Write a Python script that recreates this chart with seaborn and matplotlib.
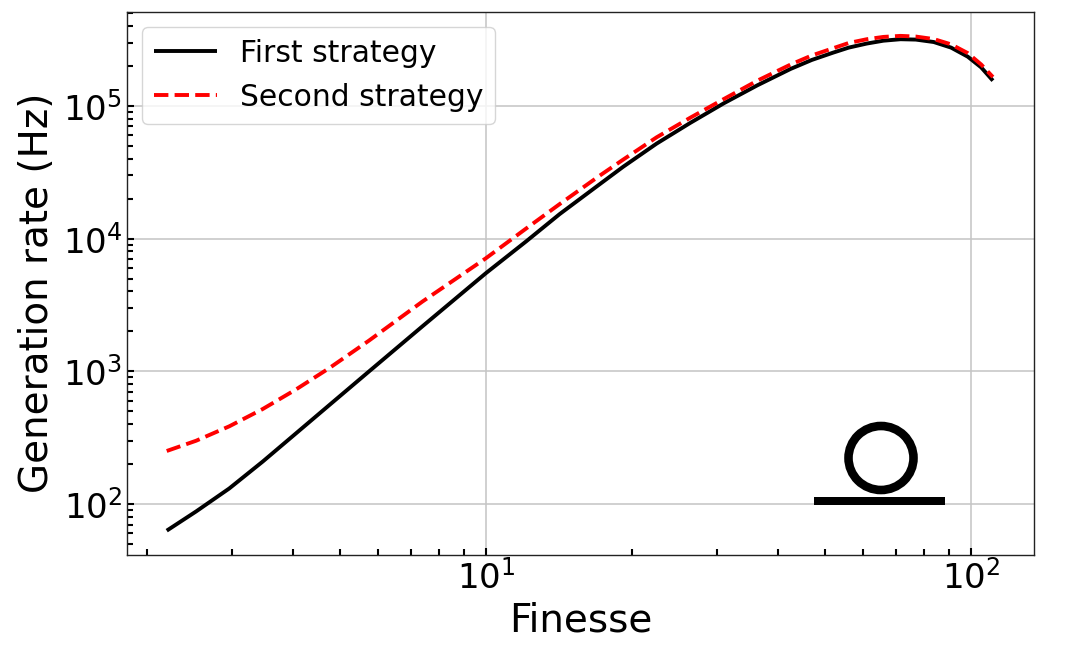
import pandas as pd
import matplotlib
matplotlib.use('Agg')
import matplotlib.pyplot as plt
from matplotlib.patches import Ellipse, Rectangle
import seaborn as sns

# Values
finesse = [2.2, 2.53, 2.96, 3.47, 4.06, 4.76, 5.74, 7.4, 10, 12.1, 14.2, 17.1,
           19.2, 22.5, 26.4, 31, 36.3, 42.5, 47, 52, 56, 61, 66, 71.6, 77, 83.8,
           91, 98.5, 105, 111]
first_rate = [63, 88, 131, 209, 340, 557, 995, 2180, 5480, 9500, 15300, 25400,
              34800, 52000, 74500, 105000, 143000, 190000, 222000, 252000, 275000, 295000,
              310000, 318000, 316000, 303000, 275000, 235000, 195000, 155000]
second_rate = [251, 300, 385, 520, 729, 1058, 1700, 3350, 7100, 11880, 18200, 29500,
               39400, 58000, 81500, 113000, 155000, 205000, 240000, 272000, 298000, 318000,
               331000, 337000, 333000, 319000, 291000, 250000, 205000, 165000]

df = pd.DataFrame({
    'finesse': finesse * 2,
    'rate': first_rate + second_rate,
    'strategy': ['First strategy'] * len(finesse) + ['Second strategy'] * len(finesse),
})

sns.set_style('ticks', {'text.color': 'black', 'axes.labelcolor': 'black',
                        'xtick.color': 'black', 'ytick.color': 'black'})
fig = plt.figure(figsize=(10.72, 6.56), dpi=100)
ax = fig.add_axes([127 / 1072, 1 - 555 / 656, 907 / 1072, 543 / 656])

sns.lineplot(data=df, x='finesse', y='rate', hue='strategy', style='strategy',
             palette=['black', 'red'], dashes=[(1, 0), (3.7, 1.6)], linewidth=2.8,
             estimator=None, ax=ax)

ax.set_xscale('log')
ax.set_yscale('log')
ax.set_xlim(1.822, 134.9)
ax.set_ylim(41.3, 5.1e5)
ax.grid(True, which='major', color='#c4c4c4', linewidth=1.1)
ax.tick_params(which='major', direction='in', labelsize=24.5, length=5, width=1.5)
ax.tick_params(which='minor', direction='in', length=4.5, width=1.5)
ax.set_xlabel('Finesse', fontsize=28, labelpad=4.5)
ax.set_ylabel('Generation rate (Hz)', fontsize=28, labelpad=5, y=(555 - 293) / 543)
for spine in ax.spines.values():
    spine.set_color('#222222')
    spine.set_linewidth(1.0)

ax.legend(title=None, loc='upper left', bbox_to_anchor=(0.0, 1.0), fontsize=21.4, frameon=True,
          handlelength=2.13, handletextpad=0.77)

# ring resonator icon
ax.add_patch(Ellipse(((881 - 127) / 907, (555 - 458) / 543), 65 / 907, 64 / 543,
                     transform=ax.transAxes, fill=False, edgecolor='black', linewidth=6.2, zorder=5))
ax.add_patch(Rectangle(((814 - 127) / 907, (555 - 505) / 543), 131 / 907, 8 / 543,
                       transform=ax.transAxes, facecolor='black', edgecolor='none', zorder=5))

fig.savefig('out.png', dpi=100)
